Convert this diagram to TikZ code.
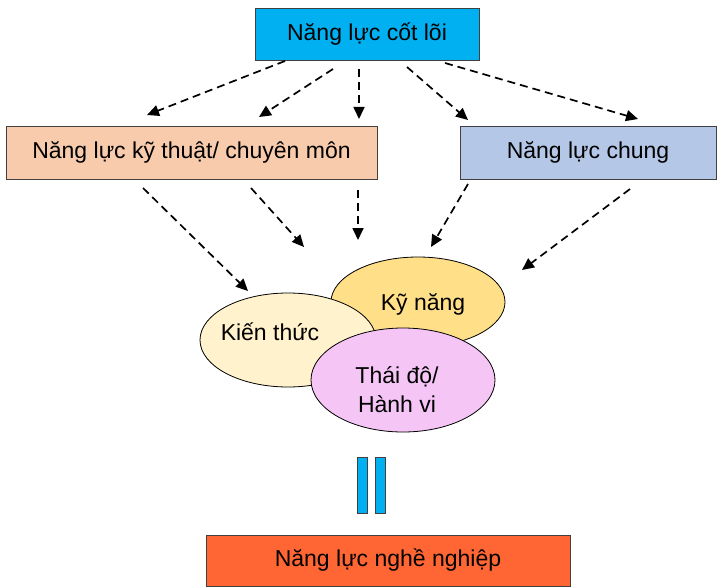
\documentclass[tikz,border=0pt]{standalone}
\usepackage{fontspec}
\setmainfont{Liberation Sans}
\usetikzlibrary{shapes.geometric,arrows.meta,shadows}

\definecolor{coreblue}{HTML}{00B0F0}
\definecolor{techpeach}{HTML}{F8CBAD}
\definecolor{genblue}{HTML}{B4C7E7}
\definecolor{profred}{HTML}{FF6633}
\definecolor{knowcream}{HTML}{FFF2CC}
\definecolor{skillgold}{HTML}{FFDF88}
\definecolor{attpink}{HTML}{F5C6F5}

\tikzset{
  box/.style={draw=black!75, line width=0.9pt, inner sep=0pt,
    drop shadow={shadow xshift=1.3pt, shadow yshift=-1.3pt, fill=black!30, opacity=0.7},
    font=\fontsize{23}{27}\selectfont},
  blob/.style={ellipse, draw=black, line width=0.8pt, inner sep=0pt},
  blobtext/.style={font=\fontsize{23}{27}\selectfont, align=center},
  flow/.style={draw=black, line width=1.7pt, dash pattern=on 8pt off 5pt,
    -{Triangle[length=12pt,width=11pt]}},
  bar/.style={draw=black!75, line width=0.8pt, fill=coreblue}
}

\begin{document}
\begin{tikzpicture}[x=1pt,y=-1pt]
\useasboundingbox (0,0) rectangle (719,588);

% competence boxes
\node[box, fill=coreblue, minimum width=224pt, minimum height=52pt] (core) at (367,34) {Năng lực cốt lõi};
\node[box, fill=techpeach, minimum width=371pt, minimum height=53pt] (tech) at (191.5,152.5) {Năng lực kỹ thuật/ chuyên môn};
\node[box, fill=genblue, minimum width=256pt, minimum height=53pt] (gen) at (588,152.5) {Năng lực chung};
\node[box, fill=profred, minimum width=364pt, minimum height=51pt] (prof) at (388,560.5) {Năng lực nghề nghiệp};

% the three overlapping components
\node[blob, fill=skillgold, minimum width=174pt, minimum height=90pt] (skill) at (418,302) {};
\node[blob, fill=knowcream, minimum width=176pt, minimum height=94pt] (know) at (288,340) {};
\node[blob, fill=attpink, minimum width=184pt, minimum height=104pt] (att) at (403,380) {};
\node[blobtext] (skilltxt) at (423,304) {Kỹ năng};
\node[blobtext] (knowtxt) at (270,332) {Kiến thức};
\node[blobtext] (atttxt) at (397,390) {Thái độ/\\[2pt]Hành vi};

% equals sign between components and professional competence
\node[bar, minimum width=10pt, minimum height=56pt, inner sep=0pt] (barL) at (362,485) {};
\node[bar, minimum width=10pt, minimum height=56pt, inner sep=0pt] (barR) at (380,485) {};

% arrow end points
\coordinate (a1s) at (285,61);  \coordinate (a1e) at (147,115);
\coordinate (a2s) at (333,69);  \coordinate (a2e) at (259,117);
\coordinate (a3s) at (359,69);  \coordinate (a3e) at (359,119);
\coordinate (a4s) at (407,67);  \coordinate (a4e) at (468,120);
\coordinate (a5s) at (445,63);  \coordinate (a5e) at (638,119);
\coordinate (b1s) at (143,188); \coordinate (b1e) at (248,291);
\coordinate (b2s) at (251,188); \coordinate (b2e) at (304,247);
\coordinate (b3s) at (358,190); \coordinate (b3e) at (358,240);
\coordinate (b4s) at (468,184); \coordinate (b4e) at (431,247);
\coordinate (b5s) at (630,189); \coordinate (b5e) at (522,270);

\foreach \a in {a1,a2,a3,a4,a5,b1,b2,b3,b4,b5}
  \draw[flow] (\a s) -- (\a e);
\end{tikzpicture}
\end{document}
